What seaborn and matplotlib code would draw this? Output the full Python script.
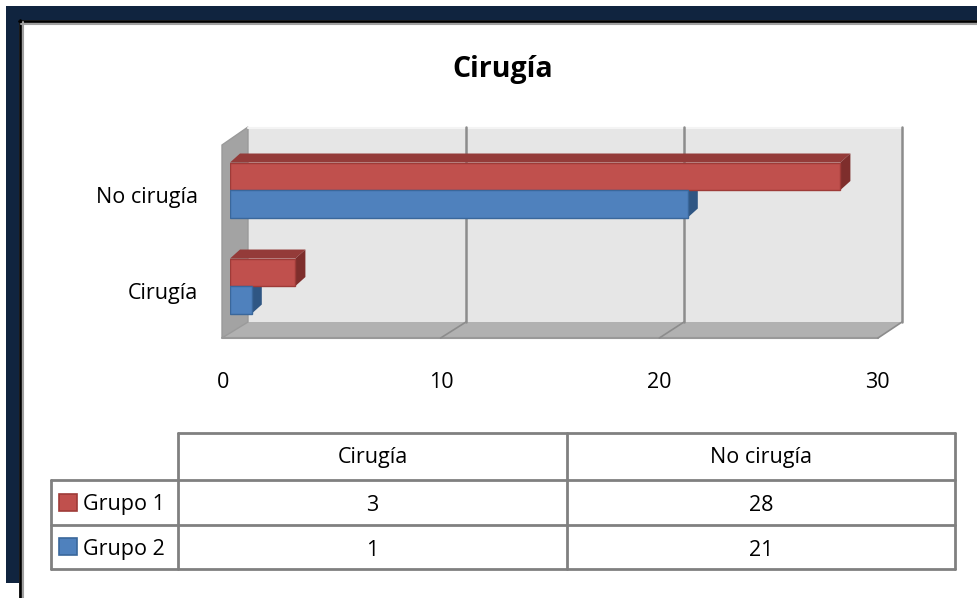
import numpy as np
import pandas as pd
import matplotlib
matplotlib.use("Agg")
import matplotlib.pyplot as plt
import seaborn as sns
from matplotlib.patches import Polygon, Rectangle
from matplotlib.transforms import Affine2D, ScaledTranslation
from matplotlib.lines import Line2D

# ---------------- data ----------------
categories = ["Cirugía", "No cirugía"]      # table column order (Excel bottom-to-top)
groups = ["Grupo 1", "Grupo 2"]
grupo1 = [3, 28]
grupo2 = [1, 21]
xticks = [0, 10, 20, 30]
title = "Cirugía"

# ---------------- style ----------------
W, H = 978, 598
RED, BLUE = "#C0504D", "#4F81BD"
RED_TOP, RED_SIDE, RED_EDGE = "#943B39", "#7E2E2C", "#9E3B38"
BLUE_TOP, BLUE_SIDE, BLUE_EDGE = "#385D8A", "#2F5683", "#3A679B"
NAVY = "#10243F"
FS = 15.5

sns.set_theme(style="white")
plt.rcParams['font.family'] = ['Open Sans', 'DejaVu Sans']

fig = plt.figure(figsize=(W / 100, H / 100), dpi=100)
fig.patch.set_facecolor("white")
PX = Affine2D().scale(1, -1).translate(0, H)   # pixel coords (top-left origin) -> display

# plot axes: front plane of bars
AX_L, AX_R, AX_T, AX_B = 230, 884, 130, 330
ax = fig.add_axes([AX_L / W, (H - AX_B) / H, (AX_R - AX_L) / W, (AX_B - AX_T) / H])
ax.patch.set_visible(False)

df = pd.DataFrame({
    "cat": categories * 2,
    "grupo": [groups[0]] * len(categories) + [groups[1]] * len(categories),
    "val": grupo1 + grupo2,
})
order = categories[::-1]
sns.barplot(data=df, y="cat", x="val", hue="grupo", order=order, hue_order=groups,
            palette=[RED, BLUE], width=0.573, saturation=1, orient="h",
            legend=False, ax=ax)

ax.set_xlim(0, 30)
ax.set_ylim(1.458, -0.625)
for s in ax.spines.values():
    s.set_visible(False)
ax.set_xlabel("")
ax.set_ylabel("")
ax.grid(False)

# ---------- 3D walls (decoration) ----------
FX0, FX1 = 222, 878      # front plane x of 0 and 30
BX0, BX1 = 248, 902      # back wall x of 0 and 30
Y_TOP, Y_BACK, Y_FRONT = 127, 322, 338

def front_x(v):
    return FX0 + v * (FX1 - FX0) / 30

def back_x(v):
    return BX0 + v * (BX1 - BX0) / 30

def add_poly(pts, z, **kw):
    p = Polygon(pts, closed=True, transform=PX, clip_on=False, zorder=z, **kw)
    ax.add_patch(p)

def add_line(xs, ys, z, **kw):
    ln = Line2D(xs, ys, transform=PX, clip_on=False, zorder=z, **kw)
    ax.add_line(ln)

# back wall
add_poly([(BX0, Y_TOP), (BX1, Y_TOP), (BX1, Y_BACK), (BX0, Y_BACK)], 0.1,
         facecolor="#E6E6E6", edgecolor="none")
add_line([BX0, BX1], [Y_TOP + 0.5, Y_TOP + 0.5], 0.15, color="#F4F4F4", lw=1.5)
# floor
add_poly([(FX0, Y_FRONT), (FX1, Y_FRONT), (BX1, Y_BACK), (BX0, Y_BACK)], 0.12,
         facecolor="#B1B1B1", edgecolor="none")
add_line([FX0, FX1], [Y_FRONT, Y_FRONT], 0.16, color="#999999", lw=1.5)
# left wall
add_poly([(FX0, 145), (BX0, Y_TOP), (BX0, Y_BACK), (FX0, Y_FRONT)], 0.13,
         facecolor="#A3A3A3", edgecolor="#9A9A9A", lw=1)

# gridlines
for v in xticks[1:]:
    add_line([back_x(v), back_x(v)], [Y_TOP, Y_BACK], 0.2, color="#8C8C8C", lw=1.8)
    add_line([front_x(v), back_x(v)], [Y_FRONT, Y_BACK], 0.2, color="#8C8C8C", lw=1.2)

# ---------- 3D faces of bars ----------
DX, DY = 10, 9
face_cols = [(RED_TOP, RED_SIDE, RED_EDGE), (BLUE_TOP, BLUE_SIDE, BLUE_EDGE)]
fig.canvas.draw()
for ci, cont in enumerate(ax.containers):
    top_c, side_c, edge_c = face_cols[ci]
    for bar in cont:
        bar.set_edgecolor(edge_c)
        bar.set_linewidth(1.0)
        bar.set_zorder(2)
        x, y = bar.get_x(), bar.get_y()
        w, h = bar.get_width(), bar.get_height()
        (x0, y0), (x1, y1) = ax.transData.transform([(x, y), (x + w, y + h)])
        x0, x1 = min(x0, x1), max(x0, x1)
        ya, yb = H - max(y0, y1), H - min(y0, y1)   # top / bottom pixel rows
        add_poly([(x0, ya), (x1, ya), (x1 + DX, ya - DY), (x0 + DX, ya - DY)], 0.9,
                 facecolor=top_c, edgecolor="none")
        add_poly([(x1, ya), (x1 + DX, ya - DY), (x1 + DX, yb - DY), (x1, yb)], 0.9,
                 facecolor=side_c, edgecolor="none")

# ---------- ticks ----------
ax.set_xticks(xticks)
ax.set_xticklabels([str(t) for t in xticks])
ax.tick_params(axis="x", length=0, pad=30, labelsize=FS, labelcolor="black")
ax.tick_params(axis="y", length=0, pad=23, labelsize=FS, labelcolor="black")
off = ScaledTranslation(-7 / 100, 0, fig.dpi_scale_trans)
for lab in ax.get_xticklabels():
    lab.set_transform(lab.get_transform() + off)
offy = ScaledTranslation(0, -5 / 100, fig.dpi_scale_trans)
for lab in ax.get_yticklabels():
    lab.set_transform(lab.get_transform() + offy)

# ---------- title ----------
fig.text(503, 77, title, transform=PX, ha="center", va="baseline",
         fontsize=20.5, fontweight="bold", color="black")

# ---------- data table ----------
TC = "#808080"
cx = [51, 178, 567, 955]
ry = [433, 480, 525, 569]
# horizontal lines
add_line([cx[1], cx[3]], [ry[0], ry[0]], 3, color=TC, lw=2)
for yv in ry[1:]:
    add_line([cx[0], cx[3]], [yv, yv], 3, color=TC, lw=2)
# vertical lines
add_line([cx[0], cx[0]], [ry[1], ry[3]], 3, color=TC, lw=2)
for xv in cx[1:]:
    add_line([xv, xv], [ry[0], ry[3]], 3, color=TC, lw=2)

col_centers = [(cx[1] + cx[2]) / 2, (cx[2] + cx[3]) / 2]
for c, name in zip(col_centers, categories):
    fig.text(c, 463, name, transform=PX, ha="center",
             va="baseline", fontsize=FS, color="black")
series_vals = [grupo1, grupo2]
sw_cols = [(RED, RED_EDGE), (BLUE, BLUE_EDGE)]
for r in range(2):
    yc = (ry[r + 1] + ry[r + 2]) / 2
    fc, ec = sw_cols[r]
    ax.add_patch(Rectangle((59, yc - 9), 18, 17, transform=PX, clip_on=False,
                           facecolor=fc, edgecolor=ec, lw=1.2, zorder=3))
    fig.text(83, yc + 7.5, groups[r], transform=PX, ha="left", va="baseline",
             fontsize=FS, color="black")
    for c, v in zip(col_centers, series_vals[r]):
        fig.text(c, yc + 8.5, str(v), transform=PX, ha="center", va="baseline",
                 fontsize=FS, color="black")

# ---------- outer frame ----------
for pts, col in [
    ([(6, 6), (W, 6), (W, 20), (6, 20)], NAVY),
    ([(6, 6), (19, 6), (19, 583), (6, 583)], NAVY),
]:
    fig.add_artist(Polygon(pts, closed=True, transform=PX, facecolor=col,
                           edgecolor="none", zorder=5))
fig.add_artist(Line2D([20, 20], [20, H], transform=PX, color="black", lw=2, zorder=6))
fig.add_artist(Line2D([19, W], [21, 21], transform=PX, color="black", lw=2, zorder=6))
fig.add_artist(Line2D([22.5, 22.5], [22, H], transform=PX, color="#A0A0A0", lw=1.5, zorder=6))
fig.add_artist(Line2D([21, W], [23.5, 23.5], transform=PX, color="#A0A0A0", lw=1.5, zorder=6))

fig.savefig("out.png", dpi=100, facecolor="white")
